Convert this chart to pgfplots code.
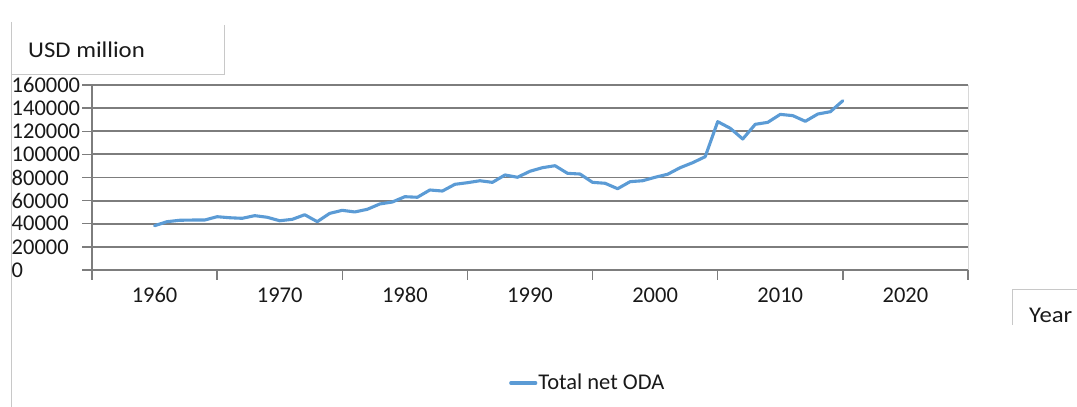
\documentclass[border=0pt]{standalone}
\usepackage{pgfplots}
\pgfplotsset{compat=1.18}
\usepackage{fontspec}
\setmainfont{Carlito}
\newfontfamily\widefont[FakeStretch=1.1]{Carlito}
\definecolor{odablue}{RGB}{91,155,213}
\definecolor{gridgray}{RGB}{125,125,125}
\definecolor{boxgray}{RGB}{200,200,200}
\definecolor{txt}{RGB}{25,25,25}
\begin{document}
\fontsize{22.5}{27}\selectfont
\begin{tikzpicture}
\useasboundingbox (0pt,0pt) rectangle (1077pt,407pt);
% frame lines and text boxes
\draw[boxgray, line width=1pt] (11.5pt,385pt) -- (11.5pt,0pt);
\draw[boxgray, line width=1pt] (224pt,382pt) -- (224pt,332pt) -- (11.5pt,332pt);
\node[anchor=base west, inner sep=0pt, text=txt, font=\widefont] at (28pt,349.7pt) {USD million};
\draw[boxgray, line width=1pt] (1012pt,82pt) -- (1012pt,117pt) -- (1080pt,117pt);
\node[anchor=base west, inner sep=0pt, text=txt, font=\widefont] at (1029pt,84pt) {Year};
\draw[boxgray!70, line width=1pt] (968pt,322pt) -- (968pt,137pt);
\begin{axis}[
  at={(92pt,137pt)}, anchor=south west,
  scale only axis, width=876pt, height=185pt,
  xmin=1955, xmax=2025, ymin=0, ymax=160000,
  axis x line*=bottom, axis y line*=left,
  axis line style={gridgray, line width=1.4pt, -},
  xtick={1955,1965,...,2025},
  xticklabels={1960,1970,1980,1990,2000,2010,2020,{}},
  xticklabel style={xshift=62.57pt, anchor=base, inner sep=0pt, yshift=-23.3pt},
  ytick={0,20000,...,160000},
  yticklabels={0,20000,40000,60000,80000,100000,120000,140000,160000},
  ymajorgrids, major grid style={gridgray, line width=1.8pt},
  tick align=outside, major tick length=9.5pt,
  tick style={gridgray, line width=1.4pt},
  yticklabel style={anchor=west, inner sep=0pt, xshift=-71pt},
  scaled y ticks=false,
  ticklabel style={text=txt},
  clip=false,
  legend style={at={(0.476,-0.611)}, anchor=west, draw=none, fill=none,
    inner sep=0pt, nodes={inner sep=1pt, text=txt},
    /tikz/every even column/.append style={column sep=2pt}},
  legend image code/.code={\draw[#1] (0pt,0pt) -- (25pt,0pt);},
]
\addplot[odablue, line width=3.1pt, line join=round, line cap=round] coordinates {
(1960,38300) (1961,41800) (1962,43000) (1963,43200) (1964,43200)
(1965,46100) (1966,45200) (1967,44700) (1968,47000) (1969,45600)
(1970,42600) (1971,43800) (1972,47800) (1973,41800) (1974,49000)
(1975,51600) (1976,50200) (1977,52500) (1978,57100) (1979,58800)
(1980,63400) (1981,62900) (1982,69200) (1983,68300) (1984,74100)
(1985,75500) (1986,77200) (1987,75800) (1988,82200) (1989,80200)
(1990,85400) (1991,88500) (1992,90200) (1993,83600) (1994,83000)
(1995,75800) (1996,75000) (1997,70300) (1998,76400) (1999,77200)
(2000,80200) (2001,82800) (2002,88500) (2003,92800) (2004,98000)
(2005,128300) (2006,122600) (2007,113300) (2008,126000) (2009,127700)
(2010,134600) (2011,133500) (2012,128600) (2013,134900) (2014,136900)
(2015,146400)
};
\addlegendentry{Total net ODA}
\end{axis}
\end{tikzpicture}
\end{document}
